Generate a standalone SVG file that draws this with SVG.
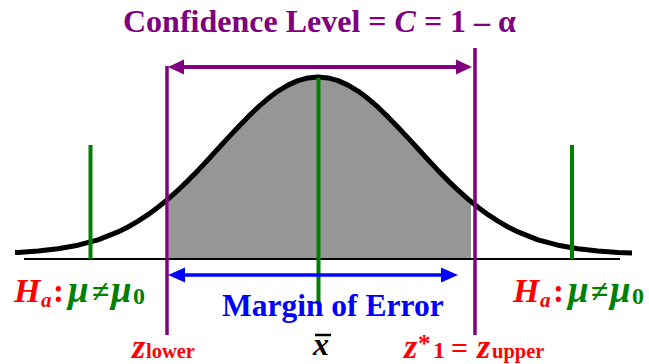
<svg xmlns="http://www.w3.org/2000/svg" width="649" height="364" viewBox="0 0 649 364">
<style>
.t{font-family:'Liberation Serif','DejaVu Serif','Times New Roman',serif;font-weight:bold}
.it{font-style:italic}
.red{fill:#ff0000}
.grn{fill:#008000}
.pur{fill:#800080}
.blu{fill:#0000ff}
.gline{stroke:#008000;stroke-width:4}
.pline{stroke:#800080;stroke-width:3.5}
</style>
<defs>
<marker id="hp" viewBox="0 0 16 16" refX="0" refY="8" markerWidth="16" markerHeight="16" markerUnits="userSpaceOnUse" orient="auto-start-reverse">
<path d="M0,0.5 L16,8 L0,15.5 z" fill="#800080"/>
</marker>
<marker id="hb" viewBox="0 0 17 16" refX="0" refY="8" markerWidth="17" markerHeight="16" markerUnits="userSpaceOnUse" orient="auto-start-reverse">
<path d="M0,0.5 L17,8 L0,15.5 z" fill="#0000ff"/>
</marker>
</defs>
<rect width="649" height="364" fill="#ffffff"/>

<g id="title" class="t">
<text x="123" y="32" font-size="32" class="pur">Confidence Level = <tspan class="it">C</tspan> = 1 – α</text>
</g>

<g id="shaded-area">
<polygon fill="#969696" points="169,259 169,198.2 178,190.2 188,180.6 198,170.4 208,159.7 218,148.8 228,137.9 238,127.2 248,116.9 258,107.2 268,98.6 278,91.1 288,85.1 298,80.6 308,77.9 318,77 328,77.9 338,80.6 348,85.1 358,91.1 368,98.6 378,107.2 388,116.9 398,127.2 408,137.9 418,148.8 428,159.7 438,170.4 448,180.6 458,190.2 468,199.1 471,201.6 471,259"/>
</g>

<g id="axis">
<line x1="24" y1="259" x2="620" y2="259" stroke="#000" stroke-width="2"/>
</g>

<g id="bell-curve">
<polyline fill="none" stroke="#000" stroke-width="5" stroke-linejoin="round" points="15,252.6 18,252.4 38,251.0 58,248.8 78,245.2 98,239.8 118,231.9 128,227.0 138,221.2 148,214.7 158,207.3 168,199.1 178,190.2 188,180.6 198,170.4 208,159.7 218,148.8 228,137.9 238,127.2 248,116.9 258,107.2 268,98.6 278,91.1 288,85.1 298,80.6 308,77.9 318,77 328,77.9 338,80.6 348,85.1 358,91.1 368,98.6 378,107.2 388,116.9 398,127.2 408,137.9 418,148.8 428,159.7 438,170.4 448,180.6 458,190.2 468,199.1 478,207.3 488,214.7 498,221.2 508,227.0 518,231.9 538,239.8 558,245.2 578,248.8 598,251.0 618,252.4 632,253.0"/>
</g>

<g id="mu0-left"><line class="gline" x1="90.5" y1="145" x2="90.5" y2="259"/></g>
<g id="mu0-right"><line class="gline" x1="572" y1="145" x2="572" y2="259"/></g>
<g id="xbar-line"><line class="gline" x1="318.5" y1="78" x2="318.5" y2="303"/></g>
<g id="z-lower-line"><line class="pline" x1="167" y1="66" x2="167" y2="335"/></g>
<g id="z-upper-line"><line class="pline" x1="475" y1="48" x2="475" y2="335"/></g>

<g id="connectors">
<line x1="184" y1="67" x2="456" y2="67" stroke="#800080" stroke-width="4" marker-start="url(#hp)" marker-end="url(#hp)"/>
<line x1="185" y1="275" x2="441" y2="275" stroke="#0000ff" stroke-width="3.5" marker-start="url(#hb)" marker-end="url(#hb)"/>
</g>

<g id="margin-label" class="t">
<text x="222" y="316" font-size="31.5" class="blu">Margin of Error</text>
</g>

<g id="ha-left" class="t">
<text class="red it" x="14" y="302" font-size="34">H</text>
<text class="red it" x="41" y="307" font-size="21">a</text>
<text class="red" x="53" y="302" font-size="33">:</text>
<text class="grn it" x="68" y="302" font-size="37">μ</text>
<text class="grn" x="92" y="302" font-size="32">≠</text>
<text class="grn it" x="111" y="302" font-size="37">μ</text>
<text class="grn" x="133" y="304" font-size="24">0</text>
</g>

<g id="ha-right" class="t">
<text class="red it" x="513" y="302" font-size="34">H</text>
<text class="red it" x="540" y="307" font-size="21">a</text>
<text class="red" x="553" y="302" font-size="33">:</text>
<text class="grn it" x="568" y="302" font-size="37">μ</text>
<text class="grn" x="591" y="302" font-size="32">≠</text>
<text class="grn it" x="610" y="302" font-size="37">μ</text>
<text class="grn" x="632" y="304" font-size="24">0</text>
</g>

<g id="z-lower-label" class="t">
<text class="red it" x="132" y="358" font-size="34">z</text>
<text class="red" x="146" y="358" font-size="20.5">lower</text>
</g>

<g id="z-upper-label" class="t">
<text class="red it" x="404" y="358" font-size="34">z</text>
<text class="red" x="418" y="352" font-size="25">*</text>
<text class="red" x="433" y="358" font-size="24">1</text>
<text class="red" x="451" y="358" font-size="30">=</text>
<text class="red it" x="477" y="358" font-size="34">z</text>
<text class="red" x="492" y="358" font-size="20.5">upper</text>
</g>

<g id="xbar-label" class="t">
<text class="it" x="313" y="355" font-size="32" fill="#000">x</text>
<line x1="315" y1="335" x2="331" y2="335" stroke="#000" stroke-width="2.5"/>
</g>
</svg>
